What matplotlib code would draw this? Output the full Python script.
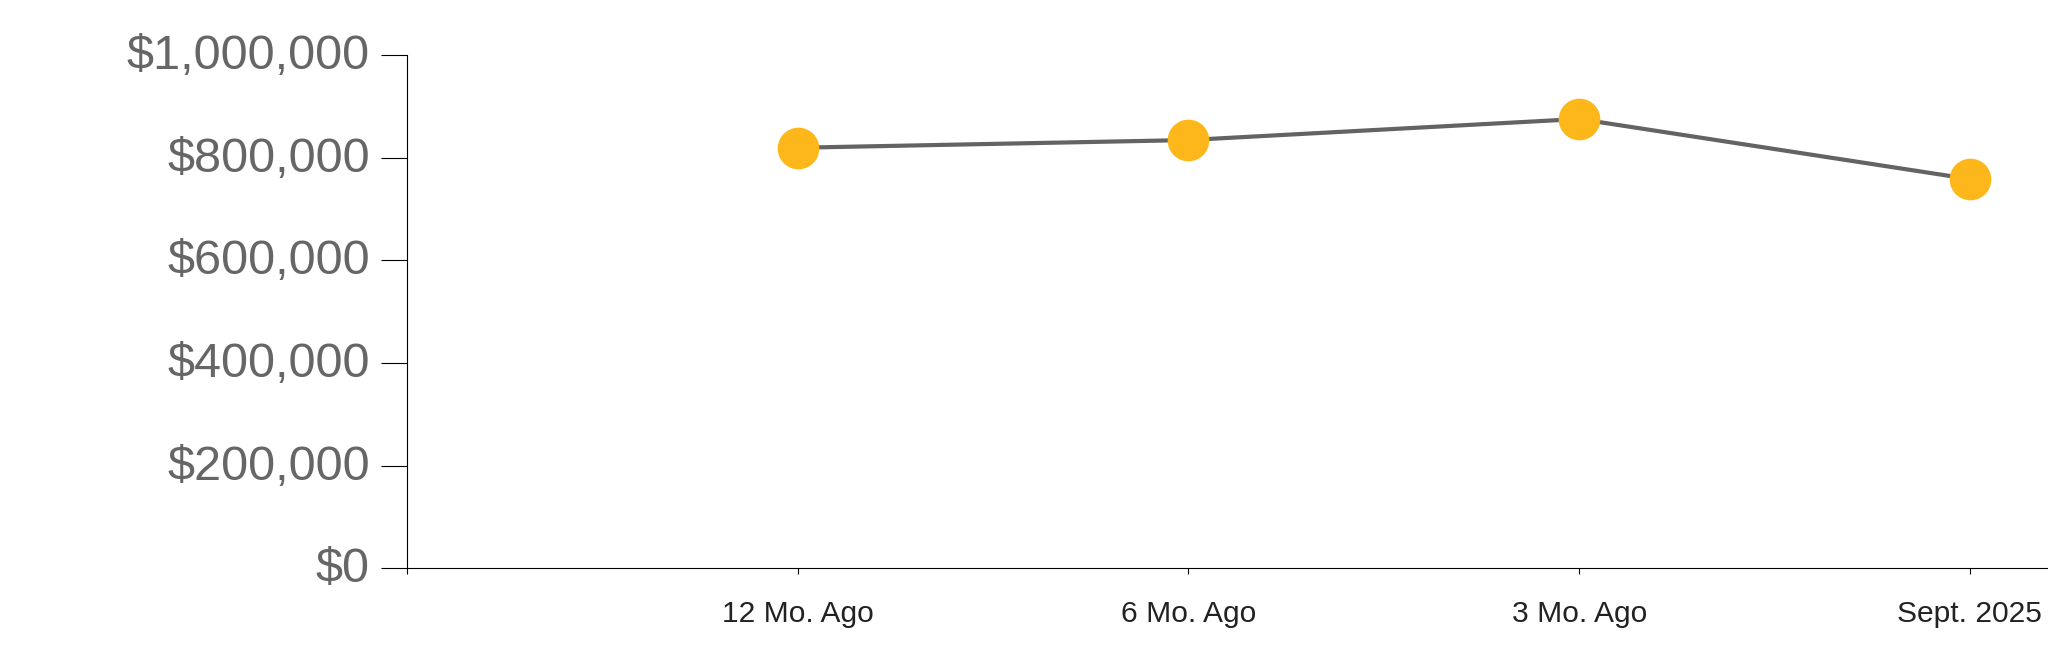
import matplotlib
matplotlib.use("Agg")
import matplotlib.pyplot as plt
from matplotlib.ticker import FuncFormatter
from matplotlib.transforms import ScaledTranslation

categories = ["12 Mo. Ago", "6 Mo. Ago", "3 Mo. Ago", "Sept. 2025"]
values = [819000, 834000, 875000, 758000]
y_ticks = [0, 200000, 400000, 600000, 800000, 1000000]

plt.rcParams['font.family'] = ['Liberation Sans', 'DejaVu Sans']

fig = plt.figure(figsize=(20.48, 6.63), dpi=100)
ax = fig.add_axes([407 / 2048, (663 - 568.3) / 663, 1 - 407 / 2048, (568.3 - 54.8) / 663])

x = list(range(len(categories)))
ax.plot(x, values, color='#636363', linewidth=3.0, zorder=2, clip_on=False)
ax.plot(x, values, linestyle='none', marker='o', markersize=30,
        markerfacecolor='#FDB71A', markeredgewidth=0, zorder=3, clip_on=False)

ax.set_xlim(-1, 3.2)
ax.set_ylim(0, 1000000)

# x ticks: include outer tick at left end of the axis
ax.set_xticks([-1] + x)
ax.set_xticklabels([""] + categories, fontsize=21.6, color='#222222')
ax.set_yticks(y_ticks)
ax.yaxis.set_major_formatter(FuncFormatter(lambda v, p: "${:,.0f}".format(v)))

ax.tick_params(axis='y', length=18.7, width=0.8, color='black', pad=8,
               labelsize=35, labelcolor='#666666')
ax.tick_params(axis='x', length=4.3, width=0.8, color='black', pad=18.5)

offset = ScaledTranslation(0, 3.5 / 100, fig.dpi_scale_trans)
for lab in ax.get_yticklabels():
    lab.set_transform(lab.get_transform() + offset)

for s in ['top', 'right']:
    ax.spines[s].set_visible(False)
for s in ['left', 'bottom']:
    ax.spines[s].set_linewidth(0.8)
    ax.spines[s].set_color('black')

fig.savefig("out.png", dpi=100, facecolor='white')
